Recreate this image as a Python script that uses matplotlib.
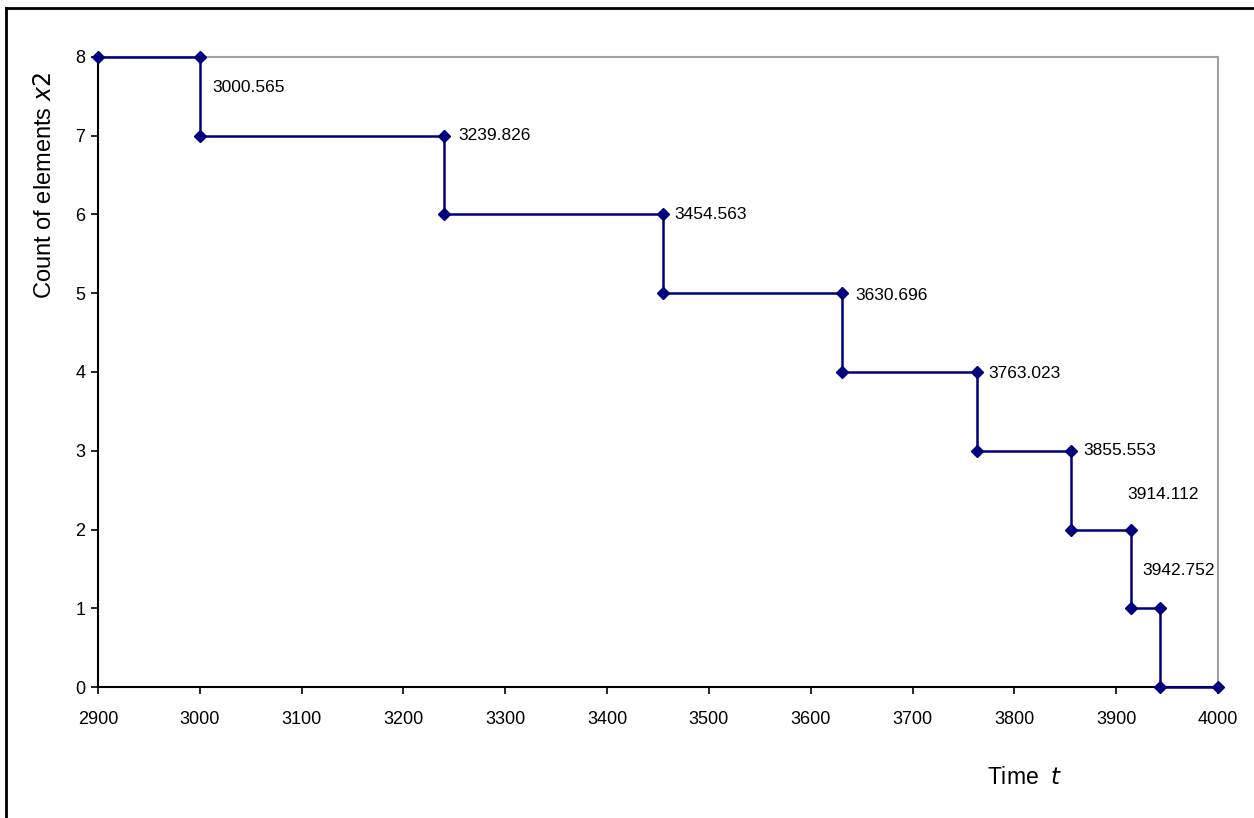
import matplotlib
matplotlib.use("Agg")
import matplotlib.pyplot as plt
from matplotlib.lines import Line2D

plt.rcParams['font.family'] = ['Liberation Sans', 'DejaVu Sans']

# Step change times and counts
times = [2900, 3000.565, 3239.826, 3454.563, 3630.696, 3763.023,
         3855.553, 3914.112, 3942.752, 4000]
counts = [8, 7, 6, 5, 4, 3, 2, 1, 0]
x_ticks = [2900, 3000, 3100, 3200, 3300, 3400, 3500, 3600, 3700, 3800, 3900, 4000]
y_ticks = [0, 1, 2, 3, 4, 5, 6, 7, 8]

# build step polyline with corner points
xs, ys = [], []
for i, c in enumerate(counts):
    xs += [times[i], times[i + 1]]
    ys += [c, c]

# label offsets (pixels) relative to upper corner point at each drop
label_offsets = [(12, -31), (14, 0), (12, 0), (13, -2), (12, -2), (12, 0),
                 (-3, 35), (-17, 38)]

W, H = 1254, 818
fig = plt.figure(figsize=(W / 100, H / 100), dpi=100)
ax = fig.add_axes([98 / W, 1 - 687 / H, (1218 - 98) / W, (687 - 57) / H])

navy = '#00007F'
ax.plot(xs, ys, color=navy, lw=1.8, marker='D', ms=6.5, mfc=navy, mec=navy,
        clip_on=False, zorder=5)

ax.set_xlim(2900, 4000)
ax.set_ylim(0, 8)
ax.set_xticks(x_ticks)
ax.set_yticks(y_ticks)
ax.tick_params(axis='both', direction='out', length=5, width=1.2, color='black',
               labelsize=13, labelcolor='black')
ax.tick_params(axis='x', pad=12)
ax.tick_params(axis='y', pad=4)
for s in ['left', 'bottom']:
    ax.spines[s].set_color('black')
    ax.spines[s].set_linewidth(1.5)
for s in ['top', 'right']:
    ax.spines[s].set_color('#A0A0A0')
    ax.spines[s].set_linewidth(1.5)

for i, (dx, dy) in enumerate(label_offsets):
    t = times[i + 1]
    lvl = counts[i]
    ax.annotate(f"{t:.3f}", xy=(t, lvl), xytext=(dx * 0.72, dy * 0.72),
                textcoords='offset points', ha='left', va='center',
                fontsize=12.5, color='black', annotation_clip=False)

fig.text(45 / W, 1 - 186 / H, r'Count of elements $\mathit{x2}$', rotation=90,
         ha='center', va='center', fontsize=17)
fig.text(1025 / W, 1 - 778 / H, r'Time  $\mathit{t}$', ha='center', va='center',
         fontsize=16.5)

# outer frame (left and top edges visible)
fig.add_artist(Line2D([6 / W, 6 / W], [0, 1 - 8 / H], transform=fig.transFigure,
                      color='black', lw=2))
fig.add_artist(Line2D([6 / W, 1], [1 - 8 / H, 1 - 8 / H], transform=fig.transFigure,
                      color='black', lw=2))

fig.savefig('out.png', dpi=100)
